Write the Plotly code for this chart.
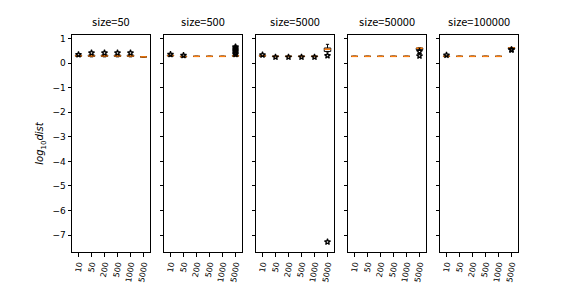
import plotly.graph_objects as go

sizes = ["size=50", "size=500", "size=5000", "size=50000", "size=100000"]
categories = ["10", "50", "200", "500", "1000", "5000"]

# per panel, per category: [lowerfence, q1, median, q3, upperfence]
box_stats = [
    [[0.28, 0.29, 0.30, 0.31, 0.32], [0.26, 0.28, 0.30, 0.33, 0.35], [0.26, 0.28, 0.30, 0.33, 0.35],
     [0.26, 0.28, 0.30, 0.33, 0.35], [0.26, 0.28, 0.30, 0.33, 0.35], [0.26, 0.26, 0.26, 0.26, 0.26]],
    [[0.29, 0.30, 0.31, 0.32, 0.33], [0.26, 0.26, 0.27, 0.28, 0.29], [0.28, 0.28, 0.28, 0.28, 0.28],
     [0.28, 0.28, 0.28, 0.28, 0.28], [0.28, 0.28, 0.28, 0.28, 0.28], [0.29, 0.29, 0.30, 0.31, 0.32]],
    [[0.29, 0.29, 0.30, 0.31, 0.31], [0.27, 0.27, 0.28, 0.28, 0.28], [0.27, 0.27, 0.28, 0.28, 0.28],
     [0.27, 0.27, 0.28, 0.28, 0.28], [0.27, 0.27, 0.28, 0.28, 0.28], [0.46, 0.48, 0.57, 0.62, 0.77]],
    [[0.28, 0.28, 0.28, 0.28, 0.28], [0.28, 0.28, 0.28, 0.28, 0.28], [0.28, 0.28, 0.28, 0.28, 0.28],
     [0.28, 0.28, 0.28, 0.28, 0.28], [0.28, 0.28, 0.28, 0.28, 0.28], [0.52, 0.55, 0.61, 0.62, 0.63]],
    [[0.28, 0.28, 0.28, 0.29, 0.29], [0.28, 0.28, 0.28, 0.28, 0.28], [0.28, 0.28, 0.28, 0.28, 0.28],
     [0.28, 0.28, 0.28, 0.28, 0.28], [0.28, 0.28, 0.28, 0.28, 0.28], [0.58, 0.59, 0.62, 0.63, 0.64]],
]

# outliers per panel, per category
outliers = [
    [[0.35], [0.42], [0.42], [0.42], [0.42], []],
    [[0.36], [0.32], [], [], [], [0.36, 0.42, 0.48, 0.53, 0.58, 0.63, 0.67]],
    [[0.34], [0.25], [0.25], [0.25], [0.25], [0.31, -7.28]],
    [[], [], [], [], [], [0.48, 0.30]],
    [[0.33], [], [], [], [], [0.56, 0.54]],
]

y_ticks = [-7, -6, -5, -4, -3, -2, -1, 0, 1]

# the page body has a default 8px margin; compensate so the final picture lines up
OFF = 8
W, H = 576 - OFF, 288 - OFF
left0, pw, step = 72 - OFF, 78, 92
ytop, ybot = 35 - OFF, 252 - OFF

fig = go.Figure()
annotations = []
layout = {}
positions = list(range(1, len(categories) + 1))

for i, title in enumerate(sizes):
    n = i + 1
    xa = "x" if n == 1 else f"x{n}"
    ya = "y" if n == 1 else f"y{n}"
    for j, pos in enumerate(positions):
        lo, q1, med, q3, hi = box_stats[i][j]
        fig.add_trace(go.Box(
            x=[pos], q1=[q1], median=[med], q3=[q3], lowerfence=[lo], upperfence=[hi],
            width=0.5, whiskerwidth=0.5, fillcolor="rgba(0,0,0,0)",
            line=dict(color="black", width=1), boxpoints=False,
            xaxis=xa, yaxis=ya, showlegend=False, hoverinfo="skip"))
    # orange medians
    mx, my = [], []
    for j, pos in enumerate(positions):
        med = box_stats[i][j][2]
        mx += [pos - 0.25, pos + 0.25, None]
        my += [med, med, None]
    fig.add_trace(go.Scatter(x=mx, y=my, mode="lines", line=dict(color="#ff7f0e", width=1.5),
                             xaxis=xa, yaxis=ya, showlegend=False, hoverinfo="skip"))
    # outliers
    ox, oy = [], []
    for j, pos in enumerate(positions):
        for v in outliers[i][j]:
            ox.append(pos)
            oy.append(v)
    fig.add_trace(go.Scatter(x=ox, y=oy, mode="markers",
                             marker=dict(symbol="star-open", size=4.5, color="black",
                                         line=dict(color="black", width=1.2)),
                             xaxis=xa, yaxis=ya, showlegend=False, hoverinfo="skip"))

    x0 = (left0 + i * step) / W
    x1 = (left0 + i * step + pw) / W
    axis_common = dict(showline=True, linecolor="black", linewidth=1, mirror=True,
                       ticks="outside", ticklen=3.5, tickcolor="black", showgrid=False,
                       zeroline=False)
    layout["xaxis" if n == 1 else f"xaxis{n}"] = dict(
        domain=[x0, x1], anchor=ya, range=[0.5, 6.5], tickmode="array",
        tickvals=positions, ticktext=categories, tickangle=-80,
        tickfont=dict(family="DejaVu Sans", size=8, color="black"), **axis_common)
    ydict = dict(domain=[1 - ybot / H, 1 - ytop / H], anchor=xa, range=[-7.69, 1.15],
                 tickmode="array", tickvals=y_ticks,
                 ticktext=[("\u2212" + str(-t)) if t < 0 else str(t) for t in y_ticks],
                 tickfont=dict(family="DejaVu Sans", size=9, color="black"),
                 **axis_common)
    if n == 1:
        ydict["title"] = dict(text="<i>log</i><sub>10</sub><i>dist</i>",
                              font=dict(family="DejaVu Sans", size=10, color="black"),
                              standoff=6)
    else:
        ydict["showticklabels"] = False
    layout["yaxis" if n == 1 else f"yaxis{n}"] = ydict
    annotations.append(dict(text=title, x=(x0 + x1) / 2, y=1 - ytop / H, xref="paper", yref="paper",
                            xanchor="center", yanchor="bottom", yshift=4, showarrow=False,
                            font=dict(family="Noto Sans CJK SC", size=11, color="black")))

fig.update_layout(width=W, height=H, margin=dict(l=0, r=0, t=0, b=0),
                  plot_bgcolor="white", paper_bgcolor="white",
                  annotations=annotations, **layout)
fig.write_html("out.html")
